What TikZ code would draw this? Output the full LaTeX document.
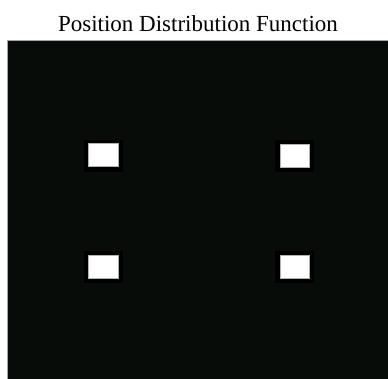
\documentclass[tikz,border=0pt]{standalone}
\usepackage{fontspec}
\setmainfont{Liberation Serif}
\begin{document}
\begin{tikzpicture}[x=1pt,y=-1pt,
  field/.style={fill=bgdark,draw=gray!70,line width=0.8pt},
  halo/.style={fill=black},
  spot/.style={fill=white,draw=gray!60,line width=0.6pt}]
\definecolor{bgdark}{HTML}{080C08}
\useasboundingbox (0,0) rectangle (388,378);
\fill[white] (0,0) rectangle (388,378);
\node[font=\fontsize{23}{25}\selectfont,anchor=base,inner sep=0pt] (title) at (198,31) {Position Distribution Function};
\path[field] (7,40) rectangle (390,380);
\fill[halo] (84,140) rectangle (123,172);
\fill[halo] (275,140) rectangle (314,172);
\fill[halo] (84,251) rectangle (123,283);
\fill[halo] (275,251) rectangle (314,283);
\path[spot] (88,143.5) rectangle (118,166);
\path[spot] (280,144) rectangle (309,167);
\path[spot] (88,255) rectangle (118,278);
\path[spot] (280,255) rectangle (309,278);
\end{tikzpicture}
\end{document}
